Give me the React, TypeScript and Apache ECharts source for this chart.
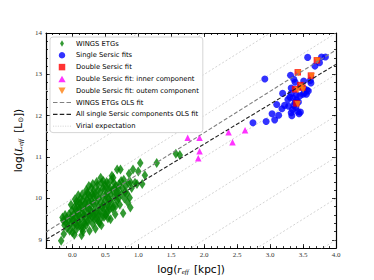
import React, { useEffect, useRef } from "react";
import * as echarts from "echarts";

const X_MIN = -0.4;
const X_MAX = 4.0;
const Y_MIN = 8.8;
const Y_MAX = 14;

const xTickLabels = [0, 0.5, 1.0, 1.5, 2.0, 2.5, 3.0, 3.5, 4.0];
const yTickLabels = [9, 10, 11, 12, 13, 14];

const wingsETGs: [number, number][] = [
  [-0.17, 8.98], [-0.15, 9.54], [-0.14, 9.47], [-0.13, 9.14], [-0.12, 9.35], [-0.1, 9.42], [-0.11, 9.6],
  [-0.08, 9.28], [-0.06, 9.45], [-0.05, 9.62], [-0.04, 9.22], [-0.03, 9.38], [-0.02, 9.55], [-0.01, 9.7], [0.0, 9.18], [0.0, 9.48],
  [0.01, 9.32], [0.02, 9.62], [0.03, 9.78], [0.04, 9.4], [0.05, 9.55], [0.06, 9.25], [0.07, 9.68], [0.08, 9.88], [0.09, 9.45], [0.1, 9.6], [0.06, 9.92], [0.03, 9.12],
  [0.11, 9.35], [0.12, 9.75], [0.13, 9.52], [0.14, 9.11], [0.15, 9.95], [0.16, 9.65], [0.17, 9.42], [0.18, 9.85], [0.19, 10.05], [0.2, 9.55], [0.12, 10.0], [0.16, 9.28], [0.18, 9.7],
  [0.21, 9.35], [0.22, 9.78], [0.23, 10.15], [0.24, 9.62], [0.25, 9.92], [0.26, 9.48], [0.27, 10.05], [0.28, 9.7], [0.29, 10.25], [0.3, 9.55], [0.22, 9.98], [0.26, 9.22], [0.28, 9.85], [0.3, 10.1],
  [0.31, 9.38], [0.32, 9.88], [0.33, 10.2], [0.35, 9.27], [0.35, 9.65], [0.36, 10.05], [0.37, 9.5], [0.38, 10.32], [0.39, 9.8], [0.4, 10.0], [0.33, 9.72], [0.37, 10.4], [0.4, 9.45],
  [0.41, 9.62], [0.42, 10.15], [0.43, 9.9], [0.44, 10.38], [0.45, 9.55], [0.46, 10.05], [0.47, 10.42], [0.48, 9.75], [0.49, 10.22], [0.5, 9.95], [0.44, 9.35], [0.5, 10.3],
  [0.51, 9.6], [0.52, 10.12], [0.53, 9.85], [0.54, 10.35], [0.55, 10.0], [0.56, 9.72], [0.57, 10.25], [0.58, 9.5], [0.59, 10.45], [0.6, 9.9],
  [0.61, 10.2], [0.62, 9.8], [0.63, 10.38], [0.64, 10.05], [0.65, 9.62], [0.66, 10.3], [0.68, 10.7], [0.68, 9.95], [0.69, 10.15],
  [0.71, 10.35], [0.72, 9.85], [0.73, 10.7], [0.74, 10.1], [0.77, 9.64], [0.76, 10.25], [0.78, 10.45], [0.79, 10.0],
  [0.81, 10.3], [0.83, 10.12], [0.85, 10.38], [0.87, 10.02], [0.88, 9.78], [0.88, 10.4], [0.9, 10.25],
  [0.92, 10.7], [0.95, 10.38], [0.98, 10.35], [1.0, 10.65], [1.03, 10.86], [1.06, 10.35], [1.1, 10.56],
  [1.28, 10.86], [1.57, 11.08], [1.63, 11.05],
  [0.08, 9.6], [0.14, 9.82], [0.2, 9.9], [0.24, 10.1], [0.32, 10.05], [0.36, 9.9], [0.42, 9.7], [0.46, 10.25], [0.52, 10.4], [0.58, 10.1],
  [0.02, 9.5], [0.1, 9.75], [0.19, 9.4], [0.27, 9.6], [0.34, 9.5], [0.48, 9.55], [0.55, 9.8], [0.62, 10.5], [0.7, 10.0], [0.15, 10.1],
  [-0.09, 9.52], [-0.02, 9.85], [0.04, 9.98], [0.09, 10.08], [0.13, 9.3], [0.21, 10.2], [0.25, 10.3], [0.31, 10.35], [0.34, 10.12], [0.39, 10.2],
  [0.43, 10.5], [0.47, 9.85], [0.53, 9.68], [0.57, 9.95], [0.6, 10.55], [0.66, 9.82], [0.7, 10.25], [0.74, 10.42], [0.8, 10.15], [0.84, 9.9],
  [0.05, 9.75], [0.11, 9.88], [0.17, 9.58], [0.23, 9.45], [0.29, 9.95], [0.38, 9.62], [0.45, 9.78], [0.51, 10.05], [0.56, 10.2], [0.64, 10.25],
  [0.07, 9.35], [0.16, 9.2], [0.25, 9.75], [0.32, 9.6], [0.41, 9.4], [0.49, 9.65], [0.54, 9.52], [0.61, 9.75], [0.67, 10.1], [0.86, 10.6],
];

const singleSersic: [number, number][] = [
  [2.74, 11.83], [2.92, 12.89], [2.94, 11.86], [3.03, 12.05], [3.07, 11.9], [3.1, 12.27], [3.13, 12.01],
  [3.18, 12.17], [3.19, 12.54], [3.22, 12.25], [3.27, 12.39], [3.28, 12.23], [3.31, 12.98], [3.32, 12.67],
  [3.32, 12.54], [3.32, 12.07], [3.33, 12.0], [3.34, 12.15], [3.35, 12.43], [3.36, 12.88], [3.38, 12.81],
  [3.38, 12.32], [3.39, 12.2], [3.4, 12.5], [3.42, 12.1], [3.43, 12.33], [3.44, 12.05], [3.45, 12.48],
  [3.46, 12.7], [3.46, 12.09], [3.51, 12.84], [3.52, 12.65], [3.52, 12.55], [3.55, 12.52], [3.56, 12.62],
  [3.57, 13.41], [3.58, 12.6], [3.62, 12.79], [3.61, 12.85], [3.68, 13.2], [3.75, 13.28], [3.78, 13.42],
  [3.84, 13.42], [3.36, 12.25], [3.3, 12.45], [3.4, 12.38], [3.5, 12.52],
];

const doubleSersic: [number, number][] = [
  [3.42, 13.05], [3.62, 12.97], [3.71, 13.34], [3.46, 12.74], [3.38, 12.64], [3.4, 12.3], [3.49, 12.68],
];

const innerComponent: [number, number][] = [
  [1.75, 11.47], [1.93, 11.47], [1.93, 11.14], [1.91, 10.97], [2.37, 11.6], [2.43, 11.36], [2.62, 11.65],
];

const outerComponent: [number, number][] = [
  [3.43, 13.03], [3.63, 12.96], [3.72, 13.33], [3.48, 12.7], [3.42, 12.62], [3.42, 12.28], [3.5, 12.63],
];

const wingsFit = { slope: 1.0, intercept: 9.59 };
const allFit = { slope: 0.963, intercept: 9.39 };
const virialIntercepts = [5, 6, 7, 8, 9, 10, 11, 12, 13];

const fitLine = (f: { slope: number; intercept: number }) => [
  [X_MIN, f.intercept + f.slope * X_MIN],
  [X_MAX, f.intercept + f.slope * X_MAX],
];

const steps = (a: number, b: number, s: number) => {
  const out: number[] = [];
  const n = Math.round((b - a) / s);
  for (let i = 0; i <= n; i++) out.push(+(a + i * s).toFixed(4));
  return out;
};

const DASH_ICON = "path://M0,0h5v1.3h-5Z M7.5,0h5v1.3h-5Z M15,0h5v1.3h-5Z";
const DOT_ICON =
  "path://M0,0h1.2v0.7h-1.2Z M2.6,0h1.2v0.7h-1.2Z M5.2,0h1.2v0.7h-1.2Z M7.8,0h1.2v0.7h-1.2Z M10.4,0h1.2v0.7h-1.2Z M13,0h1.2v0.7h-1.2Z M15.6,0h1.2v0.7h-1.2Z M18.2,0h1.2v0.7h-1.2Z";

export default function App() {
  const ref = useRef<HTMLDivElement>(null);
  useEffect(() => {
    if (!ref.current) return;
    const chart = echarts.init(ref.current, undefined, { renderer: "svg" });
    const serif = "Liberation Serif";
    const sans = "DejaVu Sans";
    const xMinor = steps(X_MIN, X_MAX, 0.1);
    const yMinor = steps(Y_MIN, Y_MAX, 0.2);
    const lineC = "#000";
    const mkX = (pos: string, major: boolean, labels: boolean) => ({
      type: "value",
      position: pos,
      min: X_MIN,
      max: X_MAX,
      axisLine: { show: major, onZero: false, lineStyle: { color: lineC, width: 1.2 } },
      axisTick: {
        show: true,
        inside: true,
        length: major ? 4 : 2,
        customValues: major ? xTickLabels : xMinor,
        lineStyle: { color: lineC, width: 0.8 },
      },
      axisLabel: labels
        ? {
            show: true,
            customValues: xTickLabels,
            formatter: (v: number) => v.toFixed(1),
            fontFamily: serif,
            fontSize: 7,
            color: "#333",
            margin: 3,
          }
        : { show: false },
      splitLine: { show: false },
      ...(labels
        ? {
            name: "{a|log(}{i|r}{s|eff}{a| [kpc])}",
            nameLocation: "middle",
            nameGap: 8,
            nameTextStyle: {
              rich: {
                a: { fontFamily: sans, fontSize: 10.5, color: "#000", lineHeight: 13, verticalAlign: "middle" },
                i: { fontFamily: serif, fontStyle: "italic", fontSize: 11, color: "#000", lineHeight: 13, verticalAlign: "middle" },
                s: { fontFamily: serif, fontStyle: "italic", fontSize: 7, color: "#000", lineHeight: 7, verticalAlign: "bottom", padding: [0, 2, 0, 0] },
              },
            },
          }
        : {}),
    });
    const mkY = (pos: string, major: boolean, labels: boolean) => ({
      type: "value",
      position: pos,
      min: Y_MIN,
      max: Y_MAX,
      axisLine: { show: major, onZero: false, lineStyle: { color: lineC, width: 1.2 } },
      axisTick: {
        show: true,
        inside: true,
        length: major ? 4 : 2,
        customValues: major ? yTickLabels : yMinor,
        lineStyle: { color: lineC, width: 0.8 },
      },
      axisLabel: labels
        ? {
            show: true,
            customValues: yTickLabels,
            formatter: (v: number) => String(Math.round(v)),
            fontFamily: serif,
            fontSize: 7,
            color: "#333",
            margin: 4,
          }
        : { show: false },
      splitLine: { show: false },
      ...(labels
        ? {
            name: "{a|log(}{i|L}{s|eff}{a| [L}{t|⊙}{a|])}",
            nameLocation: "middle",
            nameGap: 12,
            nameTextStyle: {
              rich: {
                a: { fontFamily: sans, fontSize: 10.5, color: "#000", lineHeight: 13, verticalAlign: "middle" },
                i: { fontFamily: serif, fontStyle: "italic", fontSize: 11, color: "#000", lineHeight: 13, verticalAlign: "middle" },
                s: { fontFamily: serif, fontStyle: "italic", fontSize: 7, color: "#000", lineHeight: 7, verticalAlign: "bottom", padding: [0, 3, 0, 0] },
                t: { fontFamily: sans, fontSize: 7, color: "#000", lineHeight: 7, verticalAlign: "bottom" },
              },
            },
          }
        : {}),
    });

    const virialSeries = virialIntercepts.map((c) => ({
      name: "Virial expectation",
      type: "line",
      data: fitLine({ slope: 1, intercept: c }),
      symbol: "none",
      itemStyle: { color: "#c8c8c8" },
      lineStyle: { color: "#c8c8c8", width: 0.8, type: [2, 2] },
      z: 1,
      silent: true,
    }));

    chart.setOption({
      animation: false,
      grid: { left: 46, right: 38, top: 33, bottom: 31, containLabel: false },
      xAxis: [mkX("bottom", true, true), mkX("bottom", false, false), mkX("top", true, false), mkX("top", false, false)],
      yAxis: [mkY("left", true, true), mkY("left", false, false), mkY("right", true, false), mkY("right", false, false)],
      legend: {
        orient: "vertical",
        left: 50,
        top: 37,
        padding: [3, 4, 3, 3],
        itemWidth: 18,
        itemHeight: 6.5,
        itemGap: 4.8,
        backgroundColor: "#fff",
        borderColor: "#cccccc",
        borderWidth: 0.8,
        borderRadius: 3,
        symbolKeepAspect: true,
        textStyle: { fontFamily: sans, fontSize: 6.8, color: "#000" },
        data: [
          { name: "WINGS ETGs", icon: "path://M3,0L6,5L3,10L0,5Z", itemStyle: { color: "#008000" } },
          { name: "Single Sersic fits", icon: "circle", itemStyle: { color: "#0000ff" } },
          { name: "Double Sersic fit", icon: "path://M0,0h10v10h-10Z", itemStyle: { color: "#ff0000" } },
          { name: "Double Sersic fit: inner component", icon: "path://M5,0L10,9L0,9Z", itemStyle: { color: "#ff00ff" } },
          { name: "Double Sersic fit: outem component", icon: "path://M0,0L10,0L5,9Z", itemStyle: { color: "#ff7f0e" } },
          { name: "WINGS ETGs OLS fit", icon: DASH_ICON, itemStyle: { color: "#808080" } },
          { name: "All single Sersic components OLS fit", icon: DASH_ICON, itemStyle: { color: "#222" } },
          { name: "Virial expectation", icon: DOT_ICON, itemStyle: { color: "#c8c8c8" } },
        ],
      },
      series: [
        ...virialSeries,
        {
          name: "WINGS ETGs",
          type: "scatter",
          data: wingsETGs,
          symbol: "diamond",
          symbolSize: [6.5, 10],
          itemStyle: { color: "#008000" },
          z: 2,
        },
        {
          name: "Single Sersic fits",
          type: "scatter",
          data: singleSersic,
          symbol: "circle",
          symbolSize: 7,
          itemStyle: { color: "#0000ff" },
          z: 2,
        },
        {
          name: "Double Sersic fit",
          type: "scatter",
          data: doubleSersic,
          symbol: "rect",
          symbolSize: 6.5,
          itemStyle: { color: "#ff0000" },
          z: 3,
        },
        {
          name: "Double Sersic fit: inner component",
          type: "scatter",
          data: innerComponent,
          symbol: "triangle",
          symbolSize: 6.5,
          itemStyle: { color: "#ff00ff" },
          z: 3,
        },
        {
          name: "Double Sersic fit: outem component",
          type: "scatter",
          data: outerComponent,
          symbol: "path://M0,0 L10,0 L5,10 Z",
          symbolSize: 6.5,
          itemStyle: { color: "#ff7f0e" },
          z: 3,
        },
        {
          name: "WINGS ETGs OLS fit",
          type: "line",
          data: fitLine(wingsFit),
          symbol: "none",
          itemStyle: { color: "#808080" },
          lineStyle: { color: "#808080", width: 1.1, type: [4, 2] },
          z: 4,
        },
        {
          name: "All single Sersic components OLS fit",
          type: "line",
          data: fitLine(allFit),
          symbol: "none",
          itemStyle: { color: "#222" },
          lineStyle: { color: "#222", width: 1.1, type: [4, 2] },
          z: 4,
        },
      ],
    });
    return () => chart.dispose();
  }, []);
  return <div ref={ref} style={{ width: 374, height: 280, position: "absolute", left: 0, top: 0 }} />;
}
